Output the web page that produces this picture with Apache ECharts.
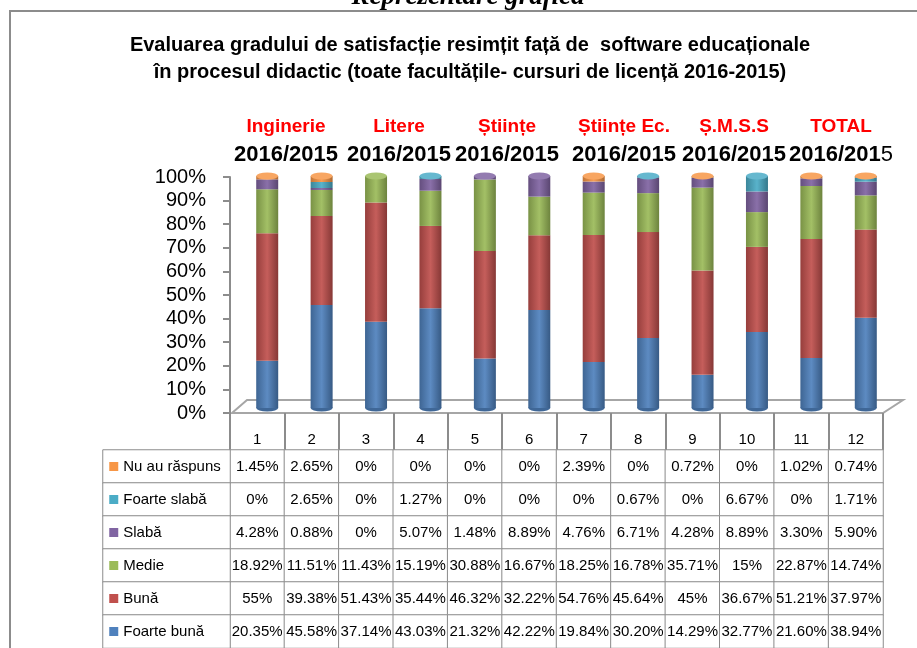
<!DOCTYPE html>
<html>
<head>
<meta charset="utf-8">
<script src="https://cdn.jsdelivr.net/npm/echarts@6/dist/echarts.min.js"></script>
<style>
html, body { margin: 0; padding: 0; background: #fff; }
#main { width: 917px; height: 648px; }
</style>
</head>
<body>
<div id="main"></div>
<script>
// date citite din tabelul graficului
var columns = ['1', '2', '3', '4', '5', '6', '7', '8', '9', '10', '11', '12'];
var faculties = ['Inginerie', 'Litere', 'Științe', 'Științe Ec.', 'Ș.M.S.S', 'TOTAL'];
var yearLabel = '2016/2015';

var nuAuRaspuns = [1.45, 2.65, 0, 0, 0, 0, 2.39, 0, 0.72, 0, 1.02, 0.74];
var foarteSlaba = [0, 2.65, 0, 1.27, 0, 0, 0, 0.67, 0, 6.67, 0, 1.71];
var slaba = [4.28, 0.88, 0, 5.07, 1.48, 8.89, 4.76, 6.71, 4.28, 8.89, 3.30, 5.90];
var medie = [18.92, 11.51, 11.43, 15.19, 30.88, 16.67, 18.25, 16.78, 35.71, 15, 22.87, 14.74];
var buna = [55, 39.38, 51.43, 35.44, 46.32, 32.22, 54.76, 45.64, 45, 36.67, 51.21, 37.97];
var foarteBuna = [20.35, 45.58, 37.14, 43.03, 21.32, 42.22, 19.84, 30.20, 14.29, 32.77, 21.60, 38.94];

// randurile tabelului, de sus in jos
var rowNames = ['Nu au răspuns', 'Foarte slabă', 'Slabă', 'Medie', 'Bună', 'Foarte bună'];
var rowValues = [nuAuRaspuns, foarteSlaba, slaba, medie, buna, foarteBuna];
var rowColors = ['#F79646', '#4BACC6', '#8064A2', '#9BBB59', '#C0504D', '#4F81BD'];

// pozitiile etichetelor de sus (asezate manual in original)
var labelX = [286, 399, 507, 624, 734, 841];

var FONT = 'Liberation Sans, Arial, sans-serif';
var GRID_COLOR = '#8c8c8c';

var shade = function (hex, f) {
    var n = parseInt(hex.slice(1), 16);
    var rgb = [(n >> 16) & 255, (n >> 8) & 255, n & 255].map(function (v) {
        v = f < 0 ? v * (1 + f) : v + (255 - v) * f;
        return Math.round(v);
    });
    return 'rgb(' + rgb.join(',') + ')';
};

var cylinder = function (c) {
    return new echarts.graphic.LinearGradient(0, 0, 1, 0, [
        { offset: 0, color: shade(c, -0.22) },
        { offset: 0.5, color: shade(c, 0.08) },
        { offset: 1, color: shade(c, -0.3) }
    ]);
};

var fmt = function (v) {
    return (Math.round(v) === v ? String(v) : v.toFixed(2)) + '%';
};

// 100% stacked: fiecare coloana se normalizeaza la totalul ei
var totals = columns.map(function (c, j) {
    var s = 0;
    rowValues.forEach(function (row) { s += row[j]; });
    return s;
});

var chart = echarts.init(document.getElementById('main'));

var series = [];
for (var r = rowValues.length - 1; r >= 0; r--) {
    series.push({
        name: rowNames[r],
        type: 'bar',
        stack: 'total',
        xAxisIndex: 1,
        yAxisIndex: 1,
        barWidth: 22,
        z: 2,
        itemStyle: { color: cylinder(rowColors[r]) },
        data: rowValues[r].map(function (v, j) { return v / totals[j] * 100; })
    });
}

// capacul si baza cilindrilor
var topColor = columns.map(function (c, j) {
    for (var i = 0; i < rowValues.length; i++) {
        if (rowValues[i][j] > 0) return rowColors[i];
    }
    return rowColors[rowColors.length - 1];
});
series.push({
    type: 'pictorialBar',
    xAxisIndex: 1,
    yAxisIndex: 1,
    symbol: 'circle',
    symbolSize: [22, 7],
    symbolPosition: 'end',
    symbolOffset: [0, '-50%'],
    z: 3,
    silent: true,
    data: columns.map(function (c, j) {
        return { value: 100, itemStyle: { color: shade(topColor[j], 0.15) } };
    })
});
series.push({
    type: 'pictorialBar',
    xAxisIndex: 1,
    yAxisIndex: 1,
    symbol: 'circle',
    symbolSize: [22, 7],
    symbolPosition: 'start',
    symbolOffset: [0, '50%'],
    z: 1,
    silent: true,
    itemStyle: { color: shade(rowColors[5], -0.2) },
    data: columns.map(function () { return 100; })
});

// tabelul de valori
var cells = [];
rowValues.forEach(function (row, i) {
    row.forEach(function (v, j) { cells.push([j, i, v]); });
});
series.push({
    type: 'heatmap',
    xAxisIndex: 2,
    yAxisIndex: 2,
    silent: true,
    itemStyle: { color: '#fff', borderColor: GRID_COLOR, borderWidth: 1 },
    label: {
        show: true,
        color: '#000',
        fontSize: 15,
        fontFamily: FONT,
        formatter: function (p) { return fmt(p.data[2]); }
    },
    emphasis: { disabled: true },
    data: cells
});

var richLegend = { n: { fontSize: 15, color: '#000', fontFamily: FONT, padding: [0, 0, 0, 5] } };
rowColors.forEach(function (c, i) {
    richLegend['c' + i] = { width: 9, height: 9, backgroundColor: c };
});
series.push({
    type: 'heatmap',
    xAxisIndex: 3,
    yAxisIndex: 3,
    silent: true,
    itemStyle: { color: '#fff', borderColor: GRID_COLOR, borderWidth: 1 },
    label: {
        show: true,
        position: 'insideLeft',
        distance: 7,
        rich: richLegend,
        formatter: function (p) {
            var i = p.data[1];
            return '{c' + i + '|}{n|' + rowNames[i] + '}';
        }
    },
    emphasis: { disabled: true },
    data: rowNames.map(function (n, i) { return [0, i, 0]; })
});

var graphics = [
    {
        type: 'rect',
        shape: { x: 10, y: 11, width: 960, height: 700 },
        style: { fill: 'none', stroke: GRID_COLOR, lineWidth: 2 },
        z: 0
    },
    {
        type: 'text',
        x: 468, y: 11,
        style: {
            text: 'Reprezentare grafică',
            font: 'italic bold 27px "Liberation Serif", serif',
            fill: '#000',
            align: 'center',
            verticalAlign: 'bottom'
        },
        z: 5
    },
    {
        type: 'text',
        x: 470, y: 59,
        style: {
            text: 'Evaluarea gradului de satisfacție resimțit față de  software educaționale\nîn procesul didactic (toate facultățile- cursuri de licență 2016-2015)',
            font: 'bold 20px ' + FONT,
            lineHeight: 27,
            fill: '#000',
            align: 'center',
            verticalAlign: 'middle'
        }
    },
    {
        // podeaua 3D
        type: 'polygon',
        shape: { points: [[232, 413], [883, 413], [903, 400], [247, 400]] },
        style: { fill: '#fff', stroke: '#a6a6a6', lineWidth: 2 },
        z: 0
    }
];
faculties.forEach(function (f, k) {
    graphics.push({
        type: 'text',
        x: labelX[k], y: 127,
        style: { text: f, font: 'bold 19px ' + FONT, fill: '#ff0000', align: 'center', verticalAlign: 'middle' }
    });
    var last = k === faculties.length - 1;
    graphics.push({
        type: 'text',
        x: labelX[k], y: 155,
        style: {
            text: last ? '{b|' + yearLabel.slice(0, -1) + '}{r|' + yearLabel.slice(-1) + '}' : '{b|' + yearLabel + '}',
            rich: {
                b: { font: 'bold 22px ' + FONT, fill: '#000' },
                r: { font: '22px ' + FONT, fill: '#000' }
            },
            align: 'center',
            verticalAlign: 'middle'
        }
    });
});

var options = {
    animation: false,
    textStyle: { fontFamily: FONT },
    grid: [
        { left: 230, right: 24, top: 177, height: 236 },
        { left: 240, right: 24, top: 176, height: 232 },
        { left: 230, right: 34, top: 450, height: 199 },
        { left: 103, width: 127, top: 450, height: 199 }
    ],
    xAxis: [
        { gridIndex: 0, type: 'category', data: columns, show: false },
        { gridIndex: 1, type: 'category', data: columns, show: false },
        {
            gridIndex: 2,
            type: 'category',
            data: columns,
            position: 'top',
            axisLine: { show: false },
            axisTick: { show: true, length: 37, lineStyle: { color: GRID_COLOR, width: 2 } },
            axisLabel: { color: '#000', fontSize: 15, margin: 3, fontFamily: FONT }
        },
        { gridIndex: 3, type: 'category', data: [''], show: false }
    ],
    yAxis: [
        {
            gridIndex: 0,
            type: 'value',
            min: 0,
            max: 100,
            interval: 10,
            axisLine: { show: true, lineStyle: { color: GRID_COLOR, width: 2 } },
            axisTick: { show: true, length: 7, lineStyle: { color: GRID_COLOR, width: 2 } },
            axisLabel: { color: '#000', fontSize: 20, margin: 24, formatter: '{value}%', fontFamily: FONT },
            splitLine: { show: false }
        },
        { gridIndex: 1, type: 'value', min: 0, max: 100, show: false },
        { gridIndex: 2, type: 'category', data: rowNames, inverse: true, show: false },
        { gridIndex: 3, type: 'category', data: rowNames, inverse: true, show: false }
    ],
    graphic: graphics,
    series: series
};

chart.setOption(options);
</script>
</body>
</html>
